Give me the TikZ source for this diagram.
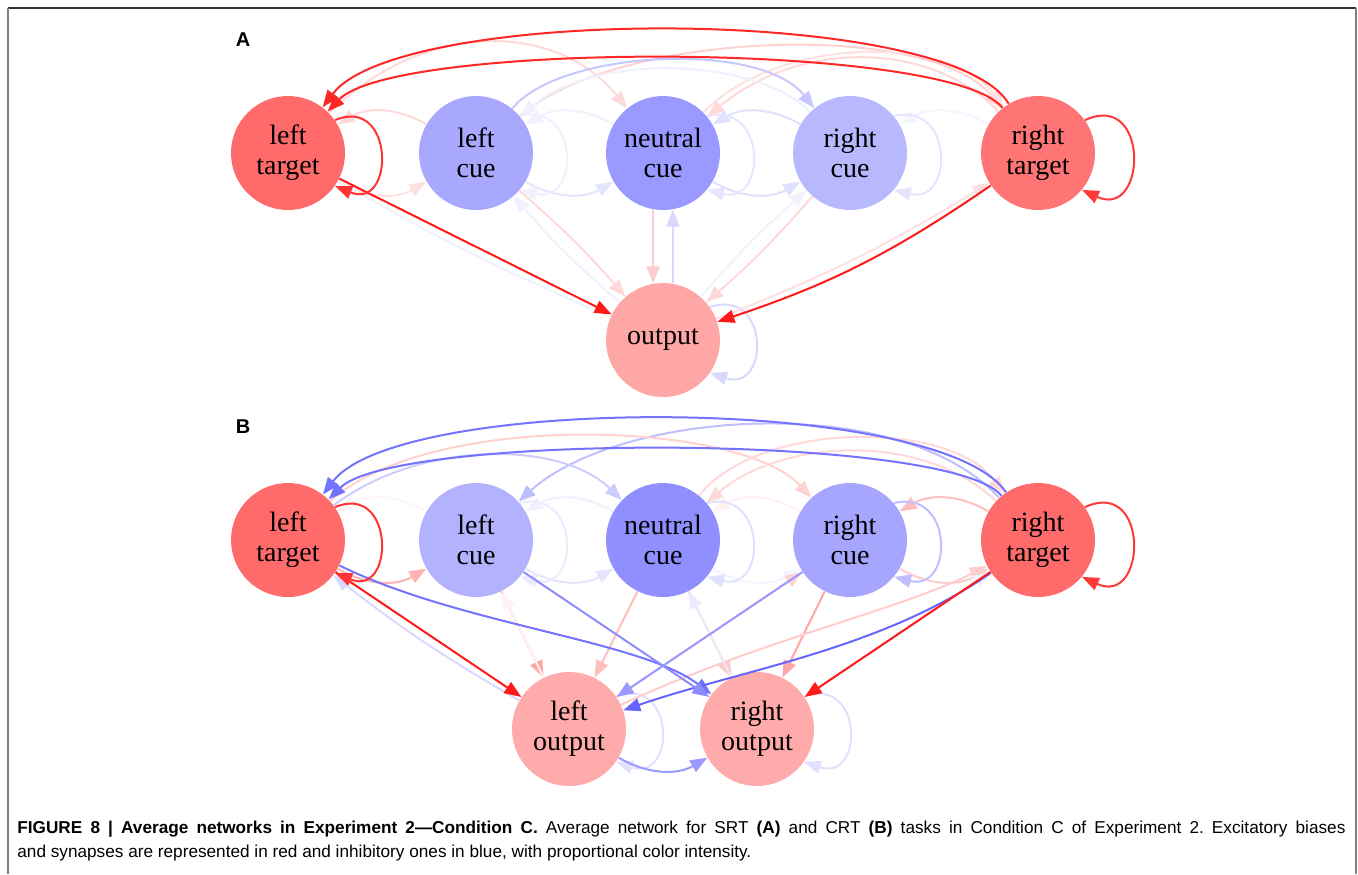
\documentclass[tikz,border=0pt]{standalone}
\usepackage{fontspec}
\setmainfont{Liberation Serif}
\setsansfont{Liberation Sans}
\usetikzlibrary{arrows.meta}

\tikzset{
  unit/.style={circle,minimum size=57pt,inner sep=0pt,align=center,font=\fontsize{14}{15}\selectfont},
  syn/.style={-{Triangle[length=8.5pt,width=6.5pt]},line width=1pt},
  exc/.style={syn,draw=red!#1},
  inh/.style={syn,draw=blue!#1},
  panel/.style={font=\sffamily\bfseries\fontsize{10}{12}\selectfont}
}

\begin{document}
\begin{tikzpicture}[x=0.5pt,y=-0.5pt]
\useasboundingbox (0,0) rectangle (1358,874);
% frame
\draw[black!80,line width=1pt] (8,8) -- (1356,8);
\draw[black!50,line width=1pt] (8,8) -- (8,874) (1356,8) -- (1356,874);

% panel A: SRT
\node[panel] (labA) at (243,40) {A};
\node[unit,fill=red!58] (A-lt) at (288,153) {left\\target};
\node[unit,fill=blue!34] (A-lc) at (476,153) {left\\cue};
\node[unit,fill=blue!40] (A-nc) at (663,153) {neutral\\cue};
\node[unit,fill=blue!28] (A-rc) at (850,153) {right\\cue};
\node[unit,fill=red!54] (A-rt) at (1038,153) {right\\target};
\node[unit,fill=red!35] (A-out) at (663,340) {output};

% weak synapses
\draw[exc=15] (A-lc) to[bend right=30] (A-lt);
\draw[exc=12] (A-lt) to[bend right=30] (A-lc);
\draw[inh=6] (A-nc) to[bend right=30] (A-lc);
\draw[inh=10] (A-lc) to[bend right=30] (A-nc);
\draw[inh=12] (A-rc) to[bend right=30] (A-nc);
\draw[inh=12] (A-nc) to[bend right=30] (A-rc);
\draw[inh=4] (A-rt) to[bend right=30] (A-rc);
\draw[inh=6] (A-lc.40) .. controls +(60,-15) and +(60,15) .. (A-lc.-40);
\draw[inh=10] (A-nc.40) .. controls +(60,-15) and +(60,15) .. (A-nc.-40);
\draw[inh=10] (A-rc.40) .. controls +(60,-15) and +(60,15) .. (A-rc.-40);
\draw[inh=15] (A-out.35) .. controls +(60,-20) and +(60,20) .. (A-out.-35);
\draw[exc=15] (A-lt) .. controls (430,15) and (560,25) .. (A-nc);
\draw[exc=18] (A-lc) .. controls (620,30) and (930,20) .. (A-rt);
\draw[exc=15] (A-rt) .. controls (930,40) and (800,40) .. (A-nc);
\draw[exc=12] (A-nc) .. controls (780,35) and (950,35) .. (A-rt);
\draw[inh=22] (A-lc) .. controls (560,50) and (760,40) .. (A-rc);
\draw[inh=6] (A-rc) .. controls (760,60) and (600,50) .. (A-lc);
\draw[exc=15] (A-lc) to[bend left=4] (A-out);
\draw[inh=6] (A-out) to[bend left=4] (A-lc);
\draw[exc=20] (A-nc.-100) -- (A-out.100);
\draw[inh=15] (A-out.80) -- (A-nc.-80);
\draw[exc=15] (A-rc) to[bend left=4] (A-out);
\draw[inh=5] (A-out) to[bend left=4] (A-rc);
\draw[exc=12] (A-out) to[bend right=5] (A-rt);
\draw[syn,draw=black!5] (A-out) to[bend left=3] (A-lt);

% strong synapses
\draw[exc=85] (A-rt) .. controls (950,5) and (400,5) .. (A-lt);
\draw[exc=85] (A-rt) .. controls (950,41) and (395,41) .. (A-lt);
\draw[exc=90] (A-lt) -- (A-out);
\draw[exc=90] (A-rt) to[bend left=8] (A-out);
\draw[exc=80] (A-lt.35) .. controls +(60,-25) and +(60,25) .. (A-lt.-35);
\draw[exc=78] (A-rt.35) .. controls +(65,-30) and +(65,30) .. (A-rt.-40);

% panel B: CRT
\node[panel] (labB) at (243,427) {B};
\node[unit,fill=red!58] (B-lt) at (288,540) {left\\target};
\node[unit,fill=blue!30] (B-lc) at (476,540) {left\\cue};
\node[unit,fill=blue!44] (B-nc) at (663,540) {neutral\\cue};
\node[unit,fill=blue!35] (B-rc) at (850,540) {right\\cue};
\node[unit,fill=red!58] (B-rt) at (1038,540) {right\\target};
\node[unit,fill=red!33] (B-lo) at (569,729) {left\\output};
\node[unit,fill=red!33] (B-ro) at (757,729) {right\\output};

% weak synapses
\draw[exc=30] (B-lt) to[bend right=30] (B-lc);
\draw[exc=4] (B-lc) to[bend right=30] (B-lt);
\draw[inh=6] (B-nc) to[bend right=30] (B-lc);
\draw[inh=10] (B-lc) to[bend right=30] (B-nc);
\draw[exc=6] (B-rc) to[bend right=30] (B-nc);
\draw[inh=4] (B-nc) to[bend right=30] (B-rc);
\draw[exc=25] (B-rt) to[bend right=30] (B-rc);
\draw[exc=20] (B-rc) to[bend right=30] (B-rt);
\draw[inh=8] (B-lc.40) .. controls +(60,-15) and +(60,15) .. (B-lc.-40);
\draw[inh=12] (B-nc.40) .. controls +(60,-15) and +(60,15) .. (B-nc.-40);
\draw[inh=12] (B-lo.35) .. controls +(60,-20) and +(60,20) .. (B-lo.-35);
\draw[inh=12] (B-ro.35) .. controls +(60,-20) and +(60,20) .. (B-ro.-35);
\draw[inh=25] (B-rt) .. controls (900,390) and (620,410) .. (B-lc);
\draw[inh=20] (B-lt) .. controls (420,440) and (560,440) .. (B-nc);
\draw[exc=18] (B-lt) .. controls (430,410) and (740,420) .. (B-rc);
\draw[exc=15] (B-nc) .. controls (760,420) and (950,420) .. (B-rt);
\draw[exc=15] (B-rt) .. controls (920,430) and (780,440) .. (B-nc);
\draw[exc=35] (B-lc) -- (B-lo);
\draw[exc=25] (B-nc) -- (B-lo);
\draw[exc=22] (B-nc) -- (B-ro);
\draw[exc=35] (B-rc) -- (B-ro);
\draw[exc=18] (B-lo) -- (B-rc);
\draw[exc=20] (B-lo) .. controls (760,640) and (900,610) .. (B-rt);
\draw[inh=15] (B-lo) to[bend left=4] (B-lt);
\draw[inh=8] (B-ro) -- (B-nc);
\draw[exc=5] (B-lo) -- (B-lc);
\draw[inh=5] (B-ro) -- (B-rt);

% strong synapses
\draw[inh=55] (B-rt) .. controls (940,394) and (400,394) .. (B-lt);
\draw[inh=55] (B-rt) .. controls (950,433) and (395,433) .. (B-lt);
\draw[inh=55] (B-lt) .. controls (460,625) and (640,640) .. (B-ro);
\draw[inh=60] (B-rt) .. controls (880,650) and (740,670) .. (B-lo);
\draw[inh=45] (B-lc) -- (B-ro);
\draw[inh=40] (B-rc) -- (B-lo);
\draw[inh=40] (B-lo) to[bend right=30] (B-ro);
\draw[inh=25] (B-rc.40) .. controls +(60,-15) and +(60,15) .. (B-rc.-40);
\draw[exc=90] (B-lt) -- (B-lo);
\draw[exc=90] (B-rt) -- (B-ro);
\draw[exc=80] (B-lt.35) .. controls +(60,-25) and +(60,25) .. (B-lt.-35);
\draw[exc=78] (B-rt.35) .. controls +(65,-30) and +(65,30) .. (B-rt.-40);

% caption
\node[anchor=north west,inner sep=0pt,text width=664pt,align=justify,
  font=\sffamily\fontsize{8.6}{12}\selectfont\frenchspacing] (cap) at (17,821)
  {\textbf{FIGURE 8 | Average networks in Experiment 2—Condition C.} Average network for SRT \textbf{(A)} and CRT \textbf{(B)} tasks in Condition C of Experiment 2. Excitatory biases\linebreak
  and synapses are represented in red and inhibitory ones in blue, with proportional color intensity.};
\end{tikzpicture}
\end{document}
